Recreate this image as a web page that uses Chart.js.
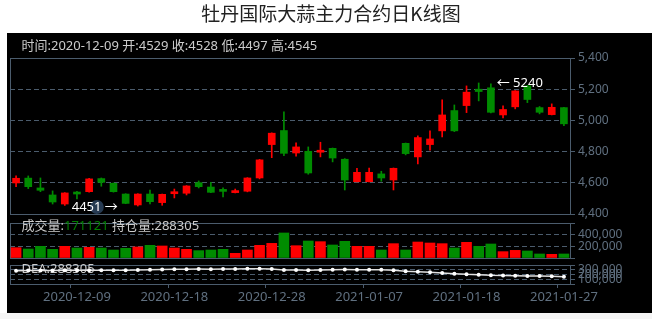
<!DOCTYPE html>
<html>
<head>
<meta charset="utf-8">
<script src="https://cdn.jsdelivr.net/npm/chart.js@4.4.1/dist/chart.umd.min.js"></script>
<style>
html, body { margin: 0; padding: 0; background: #fff; }
#wrap { position: relative; width: 652px; height: 319px; overflow: hidden; }
#bg { position: absolute; left: 7px; top: 33px; width: 645px; height: 280px; background: #000; }
#foot { position: absolute; left: 0; top: 313px; width: 652px; height: 6px; background: #f5f5f5; }
canvas { position: absolute; left: 0; top: 0; }
</style>
</head>
<body>
<div id="wrap">
  <div id="bg"></div>
  <div id="foot"></div>
  <canvas id="kChart" width="652" height="319"></canvas>
  <canvas id="volChart" width="652" height="319"></canvas>
  <canvas id="deaChart" width="652" height="319"></canvas>
</div>
<script>
var dates = ['2020-12-03','2020-12-04','2020-12-05','2020-12-07','2020-12-08','2020-12-09','2020-12-10','2020-12-11','2020-12-12','2020-12-14',
  '2020-12-15','2020-12-16','2020-12-17','2020-12-18','2020-12-19','2020-12-21','2020-12-22','2020-12-23','2020-12-24','2020-12-25',
  '2020-12-26','2020-12-28','2020-12-29','2020-12-30','2020-12-31','2021-01-02','2021-01-04','2021-01-05','2021-01-06','2021-01-07',
  '2021-01-08','2021-01-09','2021-01-11','2021-01-12','2021-01-13','2021-01-14','2021-01-15','2021-01-18','2021-01-19','2021-01-20',
  '2021-01-21','2021-01-22','2021-01-23','2021-01-25','2021-01-26','2021-01-27']
var opens = [4599,4630,4567,4522,4464,4529,4543,4627,4597,4528,4458,4528,4473,4530,4533,4601,4573,4547,4537,4546,
  4631,4845,4935,4791,4802,4796,4821,4751,4607,4607,4657,4618,4853,4766,4845,4933,5063,5095,5200,5209,
  5035,5087,5221,5082,5037,5082]
var closes = [4629,4575,4552,4477,4535,4528,4625,4603,4543,4468,4528,4479,4526,4535,4580,4575,4539,4545,4550,4631,
  4747,4918,4789,4830,4663,4806,4759,4618,4667,4667,4631,4693,4787,4890,4881,5035,4933,5181,5185,5052,
  5070,5189,5134,5052,5084,4978]
var lows = [4575,4563,4543,4464,4455,4497,4540,4578,4540,4466,4451,4464,4456,4503,4522,4567,4537,4509,4535,4542,
  4625,4761,4774,4770,4655,4766,4734,4554,4605,4605,4610,4554,4779,4721,4809,4894,4928,5050,5125,5048,
  5016,5074,5114,5042,5035,4967]
var highs = [4644,4644,4631,4548,4537,4545,4628,4631,4599,4530,4530,4554,4528,4560,4582,4612,4603,4567,4560,4633,
  4750,4920,5055,4856,4830,4860,4823,4755,4693,4695,4674,4695,4855,4901,4933,5132,5099,5221,5240,5234,
  5093,5191,5225,5089,5106,5084]
var volumes = [177000,154000,200000,149000,200000,171121,183000,171000,137000,166000,189000,217000,206000,171000,149000,
  126000,137000,149000,80000,137000,217000,251000,429000,211000,291000,280000,223000,286000,200000,200000,
  137000,246000,137000,274000,257000,246000,171000,269000,200000,240000,109000,131000,120000,69000,63000,69000]
var positions = [281000,283000,285000,286000,287000,288305,290000,291000,288000,289000,293000,299000,305000,311000,313000,
  314000,313000,315000,314000,320000,322000,316000,295000,294000,288000,294000,302000,303000,302000,301000,
  300000,288000,267000,260000,246000,232000,218000,204000,196000,183000,181000,175000,168000,166000,161000,154000]
var priceTicks = [4400, 5400, 200]
var volumeTicks = [0, 600000, 200000]
var positionTicks = [0, 400000, 100000]
var selected = 5

var upColor = '#ff0000'
var downColor = '#008c00'
var frameColor = '#4b5c6d'
var axisTextColor = '#607080'
var textColor = '#cccccc'
var family = "'Noto Sans', 'Noto Sans CJK SC', sans-serif"

Chart.defaults.font.family = family
Chart.defaults.animation = false

var candleColors = opens.map((o, i) => closes[i] > o ? upColor : downColor)

function fmt(v) {
  return Number(v).toLocaleString('en-US')
}

function yAxis(range, hidden, size) {
  return {
    position: 'right',
    min: range[0], max: range[1],
    afterFit: s => { s.width = 82 },
    ticks: {
      stepSize: range[2], color: axisTextColor, padding: 3, autoSkip: false,
      font: { size: size },
      callback: v => hidden.indexOf(v) >= 0 ? '' : fmt(v)
    },
    grid: { color: frameColor, tickColor: frameColor, tickLength: 5 },
    border: { color: frameColor, dash: [5, 3] }
  }
}

var hiddenX = { type: 'category', offset: true, display: false, grid: { offset: true } }

var framePlugin = {
  id: 'frame',
  beforeDatasetsDraw(chart) {
    var a = chart.chartArea, ctx = chart.ctx
    ctx.save()
    ctx.strokeStyle = frameColor
    ctx.lineWidth = 1
    ctx.strokeRect(Math.round(a.left) + 0.5, Math.round(a.top) + 0.5, Math.round(a.right - a.left), Math.round(a.bottom - a.top))
    ctx.restore()
  }
}

function drawParts(ctx, parts, x, y) {
  ctx.textAlign = 'left'
  ctx.textBaseline = 'middle'
  ctx.font = '13px ' + family
  parts.forEach(p => {
    ctx.fillStyle = p[1]
    ctx.fillText(p[0], x, y)
    x += ctx.measureText(p[0]).width
  })
}

var kHeader = {
  id: 'kHeader',
  afterDraw(chart) {
    var a = chart.chartArea, ctx = chart.ctx
    ctx.save()
    drawParts(ctx, [['时间:' + dates[selected] + ' 开:' + opens[selected] + ' 收:' + closes[selected]
      + ' 低:' + lows[selected] + ' 高:' + highs[selected], textColor]], a.left + 11.5, a.top - 12)
    ctx.restore()
  }
}

var extremes = {
  id: 'extremes',
  afterDatasetsDraw(chart) {
    var ctx = chart.ctx, x = chart.scales.x, y = chart.scales.y
    var lo = lows.indexOf(Math.min(...lows))
    var hi = highs.indexOf(Math.max(...highs))
    var lx = x.getPixelForValue(lo), ly = y.getPixelForValue(lows[lo])
    var hx = x.getPixelForValue(hi), hy = y.getPixelForValue(highs[hi])
    ctx.save()
    ctx.fillStyle = '#263a52'
    ctx.beginPath()
    ctx.arc(lx - 41, ly + 1, 7, 0, Math.PI * 2)
    ctx.fill()
    ctx.font = '13px ' + family
    ctx.textBaseline = 'middle'
    ctx.fillStyle = '#ffffff'
    ctx.textAlign = 'right'
    ctx.fillText(lows[lo] + ' \u2192', lx - 20, ly + 1)
    ctx.textAlign = 'left'
    ctx.fillText('\u2190 ' + highs[hi], hx + 18, hy)
    ctx.restore()
  }
}

var volHeader = {
  id: 'volHeader',
  afterDraw(chart) {
    var a = chart.chartArea, ctx = chart.ctx
    ctx.save()
    drawParts(ctx, [['成交量:', textColor], [String(volumes[selected]), '#008000'],
      [' 持仓量:' + positions[selected], textColor]], a.left + 11.5, a.top + 3)
    ctx.restore()
  }
}

var deaHeader = {
  id: 'deaHeader',
  beforeDatasetsDraw(chart) {
    var a = chart.chartArea, ctx = chart.ctx
    ctx.save()
    drawParts(ctx, [['DEA:' + positions[selected], textColor]], a.left + 11.5, a.top + 4)
    ctx.restore()
  }
}

new Chart(document.getElementById('kChart'), {
  type: 'bar',
  data: {
    labels: dates,
    datasets: [{
      data: opens.map((o, i) => [Math.min(o, closes[i]), Math.max(o, closes[i])]),
      backgroundColor: candleColors,
      barThickness: 7,
      minBarLength: 2,
      grouped: false
    }, {
      data: lows.map((l, i) => [l, highs[i]]),
      backgroundColor: candleColors,
      barThickness: 1,
      grouped: false
    }]
  },
  options: {
    responsive: false,
    locale: 'en-US',
    layout: { padding: { left: 10, right: 0, top: 0, bottom: 105 } },
    plugins: {
      legend: { display: false },
      tooltip: { enabled: false },
      title: {
        display: true,
        text: '牡丹国际大蒜主力合约日K线图',
        color: '#222222',
        font: { size: 19, weight: 'normal', family: "'Noto Sans CJK SC', sans-serif" },
        padding: { top: 2, bottom: 33.2 }
      }
    },
    scales: {
      x: hiddenX,
      y: yAxis(priceTicks, [], 12)
    }
  },
  plugins: [framePlugin, kHeader, extremes]
})

new Chart(document.getElementById('volChart'), {
  type: 'bar',
  data: {
    labels: dates,
    datasets: [{
      data: volumes,
      backgroundColor: candleColors,
      barThickness: 10
    }]
  },
  options: {
    responsive: false,
    locale: 'en-US',
    layout: { padding: { left: 10, right: 0, top: 223, bottom: 61 } },
    plugins: { legend: { display: false }, tooltip: { enabled: false } },
    scales: {
      x: hiddenX,
      y: yAxis(volumeTicks, [0, 600000], 12)
    }
  },
  plugins: [framePlugin, volHeader]
})

new Chart(document.getElementById('deaChart'), {
  type: 'line',
  data: {
    labels: dates,
    datasets: [{
      data: positions,
      borderColor: '#e0e0e0',
      borderWidth: 1.5,
      pointRadius: 2,
      pointBorderWidth: 0,
      pointBackgroundColor: '#ffffff',
      tension: 0
    }]
  },
  options: {
    responsive: false,
    locale: 'en-US',
    layout: { padding: { left: 10, right: 0, top: 265, bottom: 11 } },
    plugins: { legend: { display: false }, tooltip: { enabled: false } },
    scales: {
      x: {
        type: 'category',
        offset: true,
        afterFit: s => { s.height = 24 },
        grid: {
          offset: true, drawOnChartArea: false, tickLength: 4,
          tickColor: c => c.index % 8 === 5 ? frameColor : 'transparent'
        },
        border: { display: false },
        ticks: {
          autoSkip: false, maxRotation: 0, minRotation: 0, padding: 1,
          color: axisTextColor, font: { size: 13 },
          callback: (v, i) => i % 8 === 5 ? dates[i] : ''
        }
      },
      y: yAxis(positionTicks, [0, 400000], 12)
    }
  },
  plugins: [framePlugin, deaHeader]
})
</script>
</body>
</html>
